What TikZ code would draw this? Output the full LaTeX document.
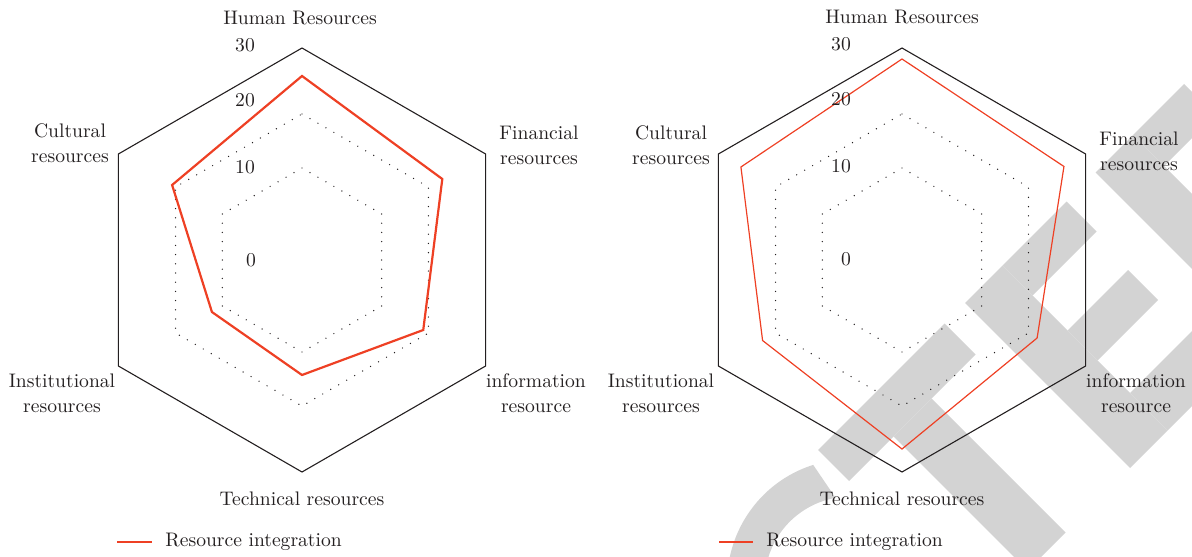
\documentclass[tikz,border=0pt]{standalone}
\usepackage{tikz}
\usetikzlibrary{calc}
\definecolor{serred}{RGB}{238,64,36}
\definecolor{ink}{RGB}{35,31,32}
\definecolor{wmgray}{RGB}{211,211,211}

\begin{document}
\begin{tikzpicture}[x=0.5pt,y=-0.5pt]
\tikzstyle{lbl}=[font=\fontsize{9.8}{12.5}\selectfont, text=ink, align=center, inner sep=0pt]
\tikzstyle{hexframe}=[ink, line width=0.55pt]
\tikzstyle{dotring}=[ink, line width=0.7pt, line cap=round, dash pattern=on 0pt off 4.6pt]
\tikzstyle{seriesA}=[serred, line width=1.1pt]
\tikzstyle{seriesB}=[serred, line width=0.6pt]
\tikzstyle{wmark}=[fill=wmgray]

\useasboundingbox (0,0) rectangle (1192,556);

% watermark behind the right chart
\begin{scope}
\clip (0,0) rectangle (1192,556);
\begin{scope}[x={(0.25pt,0.25pt)},y={(0.25pt,-0.25pt)}]
\coordinate (wc) at (268,1433);
\fill[wmark] (wc) ++(-62.6:174.5) arc[start angle=-62.6,end angle=-250,radius=174.5]
  -- ($(wc)+(-250:121.6)$) arc[start angle=-250,end angle=-55,radius=121.6] -- cycle;
\foreach \sa/\ta/\sb/\tb in {368/1268/621/1330, 457/1330/533/1598, 662/1268/737/1598, 737/1268/865/1328, 737/1398/858/1458, 737/1523/870/1598, 923/1268/998/1598, 998/1268/1100/1330}
  \fill[wmark] (\sa,\ta) -- (\sb,\ta) -- (\sb,\tb) -- (\sa,\tb) -- cycle;
\end{scope}
\end{scope}

% left chart
\begin{scope}[shift={(302,260)},yscale=-1]
\foreach \r/\st in {92/dotring,146/dotring,212/hexframe}
  \draw[\st] (90:\r) -- (30:\r) -- (-30:\r) -- (-90:\r) -- (210:\r) -- (150:\r) -- cycle;
\coordinate (hrA) at (90:184);
\coordinate (fiA) at (30:162);
\coordinate (inA) at (-30:140);
\coordinate (teA) at (-90:115);
\coordinate (isA) at (210:104);
\coordinate (cuA) at (150:150);
\draw[seriesA] (hrA) -- (fiA) -- (inA) -- (teA) -- (isA) -- (cuA) -- cycle;
\end{scope}

\node[lbl](hrLabA) at (300,18){Human Resources};
\node[lbl](fiLabA) at (539,145){Financial\\resources};
\node[lbl](inLabA) at (536,393){information\\resource};
\node[lbl](teLabA) at (302,499){Technical resources};
\node[lbl](isLabA) at (62,393){Institutional\\resources};
\node[lbl](cuLabA) at (70,143){Cultural\\resources};
\node[lbl](t30A) at (245,45){30};
\node[lbl](t20A) at (245,100){20};
\node[lbl](t10A) at (245,167){10};
\node[lbl](t0A) at (251,260){0};

\coordinate (legA) at (117,542);
\node[lbl,anchor=west](legTxtA) at (165,542){Resource integration};
\draw[serred,line width=0.7pt] (legA) -- ([xshift=-6.5pt]legTxtA.west);

% right chart
\begin{scope}[shift={(902,260)},yscale=-1]
\foreach \r/\st in {92/dotring,146/dotring,212/hexframe}
  \draw[\st] (90:\r) -- (30:\r) -- (-30:\r) -- (-90:\r) -- (210:\r) -- (150:\r) -- cycle;
\coordinate (hrB) at (90:201);
\coordinate (fiB) at (30:187);
\coordinate (inB) at (-30:156);
\coordinate (teB) at (-90:189);
\coordinate (isB) at (210:161);
\coordinate (cuB) at (150:186);
\draw[seriesB] (hrB) -- (fiB) -- (inB) -- (teB) -- (isB) -- (cuB) -- cycle;
\end{scope}

\node[lbl](hrLabB) at (902,17){Human Resources};
\node[lbl](fiLabB) at (1139,151){Financial\\resources};
\node[lbl](inLabB) at (1136,393){information\\resource};
\node[lbl](teLabB) at (902,499){Technical resources};
\node[lbl](isLabB) at (661,393){Institutional\\resources};
\node[lbl](cuLabB) at (671,145){Cultural\\resources};
\node[lbl](t30B) at (841,44){30};
\node[lbl](t20B) at (841,99){20};
\node[lbl](t10B) at (841,166){10};
\node[lbl](t0B) at (846,259){0};

\coordinate (legB) at (719,542);
\node[lbl,anchor=west](legTxtB) at (766,542){Resource integration};
\draw[seriesB] (legB) -- ([xshift=-6.5pt]legTxtB.west);
\end{tikzpicture}
\end{document}
